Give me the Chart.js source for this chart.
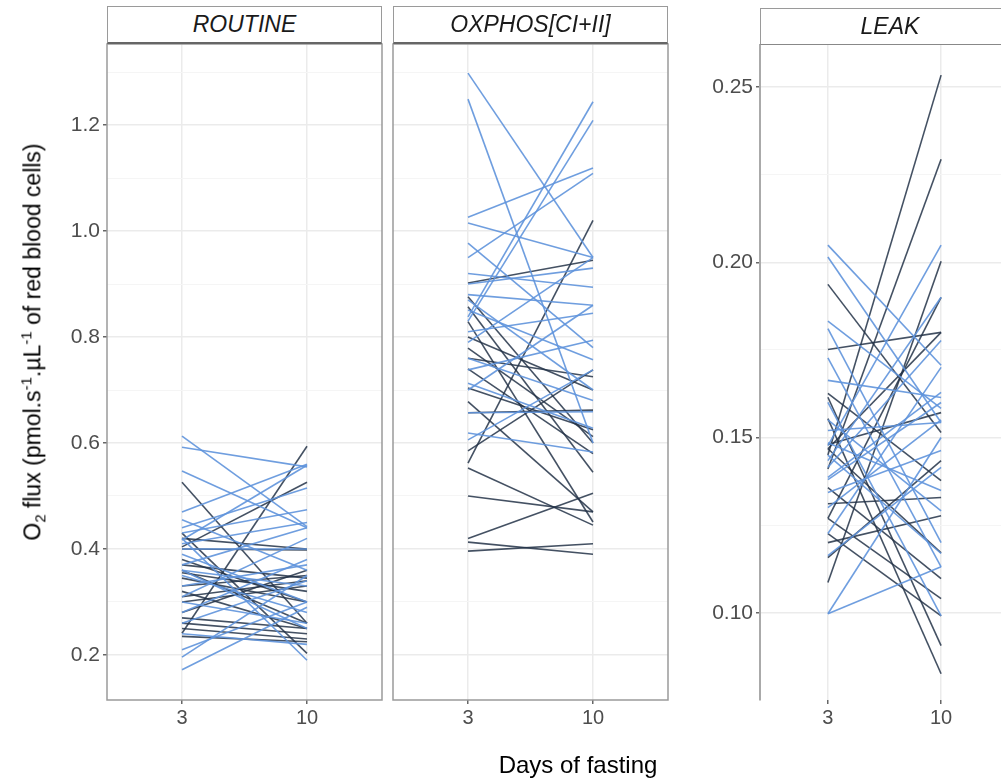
<!DOCTYPE html>
<html>
<head>
  <meta charset="utf-8">
  <title>O2 flux vs days of fasting</title>
  <script src="https://cdn.jsdelivr.net/npm/chart.js"></script>
  <style>
    body {
      margin: 0;
      width: 1001px;
      height: 782px;
      overflow: hidden;
      background: #fff;
      font-family: "Liberation Sans", Arial, sans-serif;
      position: relative;
    }
    canvas { position: absolute; top: 0; }
    .strip {
      position: absolute;
      box-sizing: border-box;
      background: #fff;
      border: 1.5px solid #9a9a9a;
      border-bottom: 2px solid #666;
      font-style: italic;
      font-size: 23px;
      color: #1a1a1a;
      text-align: center;
      line-height: 34px;
    }
    .ytitle {
      position: absolute;
      left: 33px;
      top: 342px;
      transform: translate(-50%, -50%) rotate(-90deg);
      white-space: nowrap;
      font-size: 23px;
      color: #000;
    }
    .ytitle sub, .ytitle sup { font-size: 15px; }
    .xtitle {
      position: absolute;
      left: 578px;
      top: 765px;
      transform: translate(-50%, -50%);
      font-size: 24px;
      color: #000;
      white-space: nowrap;
    }
  </style>
</head>
<body>
  <canvas id="routine" width="390" height="782" style="left:0px"></canvas>
  <canvas id="oxphos" width="290" height="782" style="left:390px"></canvas>
  <canvas id="leak" width="330" height="782" style="left:690px"></canvas>

  <div class="strip" style="left:107px; top:6px; width:275px; height:38px;">ROUTINE</div>
  <div class="strip" style="left:393px; top:6px; width:275px; height:38px;">OXPHOS[CI+II]</div>
  <div class="strip" style="left:760px; top:8px; width:260px; height:37px; border-bottom:1.5px solid #888;">LEAK</div>

  <div class="ytitle">O<sub>2</sub> flux (pmol.s<sup>-1</sup>.µL<sup>-1</sup> of red blood cells)</div>
  <div class="xtitle">Days of fasting</div>

  <script>
    // x categories
    const days = ['3', '10'];

    // ROUTINE: value at day 3 and day 10 for each bird
    const routineBlue3  = [0.613, 0.592, 0.547, 0.417, 0.47, 0.455, 0.44, 0.43, 0.41, 0.40, 0.39, 0.37, 0.36, 0.35, 0.33, 0.31, 0.30, 0.28, 0.26, 0.24, 0.21, 0.196, 0.172, 0.42, 0.36];
    const routineBlue10 = [0.442, 0.555, 0.44, 0.558, 0.56, 0.36, 0.515, 0.474, 0.45, 0.40, 0.30, 0.44, 0.33, 0.28, 0.37, 0.42, 0.26, 0.38, 0.34, 0.22, 0.30, 0.35, 0.29, 0.19, 0.25];
    const routineDark3  = [0.526, 0.241, 0.404, 0.43, 0.42, 0.40, 0.38, 0.37, 0.36, 0.355, 0.345, 0.33, 0.32, 0.31, 0.28, 0.27, 0.26, 0.25, 0.235, 0.30];
    const routineDark10 = [0.26, 0.594, 0.526, 0.203, 0.40, 0.398, 0.30, 0.345, 0.26, 0.32, 0.30, 0.35, 0.25, 0.34, 0.36, 0.25, 0.24, 0.23, 0.225, 0.33];

    // OXPHOS[CI+II]
    const oxphosBlue3  = [1.298, 1.249, 0.838, 0.83, 1.026, 0.95, 1.015, 0.977, 0.92, 0.90, 0.88, 0.87, 0.79, 0.606, 0.619, 0.657, 0.713, 0.738, 0.81, 0.851, 0.76, 0.70];
    const oxphosBlue10 = [0.95, 0.60, 1.244, 1.209, 1.119, 1.109, 0.95, 0.78, 0.894, 0.93, 0.86, 0.70, 0.95, 0.738, 0.583, 0.659, 0.628, 0.794, 0.845, 0.757, 0.68, 0.86];
    const oxphosDark3  = [0.562, 0.902, 0.876, 0.857, 0.829, 0.779, 0.76, 0.704, 0.678, 0.657, 0.585, 0.553, 0.50, 0.413, 0.396, 0.42, 0.74, 0.80];
    const oxphosDark10 = [1.02, 0.945, 0.60, 0.545, 0.451, 0.612, 0.725, 0.625, 0.47, 0.662, 0.738, 0.445, 0.47, 0.39, 0.41, 0.505, 0.58, 0.70];

    // LEAK
    const leakBlue3  = [0.2049, 0.2015, 0.1832, 0.1811, 0.1727, 0.1663, 0.1477, 0.1434, 0.1415, 0.1386, 0.1343, 0.1226, 0.1163, 0.0997, 0.1485, 0.155, 0.160, 0.145, 0.130, 0.138, 0.0997, 0.152];
    const leakBlue10 = [0.1706, 0.1543, 0.1583, 0.12, 0.1131, 0.1614, 0.2049, 0.190, 0.1777, 0.1629, 0.1463, 0.170, 0.1415, 0.1131, 0.1349, 0.1291, 0.0991, 0.1169, 0.155, 0.160, 0.150, 0.1543];
    const leakDark3  = [0.1937, 0.1751, 0.145, 0.141, 0.1086, 0.1269, 0.1468, 0.1626, 0.1615, 0.1554, 0.1468, 0.1357, 0.1311, 0.1269, 0.1226, 0.12, 0.1157, 0.148];
    const leakDark10 = [0.1514, 0.180, 0.2534, 0.2294, 0.2003, 0.190, 0.180, 0.1377, 0.0906, 0.0826, 0.1171, 0.1097, 0.1329, 0.104, 0.0991, 0.1277, 0.1434, 0.1571];

    // axis ticks
    const fluxGrid   = [0.2, 0.3, 0.4, 0.5, 0.6, 0.7, 0.8, 0.9, 1.0, 1.1, 1.2, 1.3];
    const fluxMajor  = [0.2, 0.4, 0.6, 0.8, 1.0, 1.2];
    const fluxLabels = ['0.2', '0.4', '0.6', '0.8', '1.0', '1.2'];
    const leakGrid   = [0.1, 0.125, 0.15, 0.175, 0.2, 0.225, 0.25];
    const leakMajor  = [0.1, 0.15, 0.2, 0.25];
    const leakLabels = ['0.10', '0.15', '0.20', '0.25'];

    const BLUE = 'rgba(95, 148, 220, 0.9)';
    const DARK = 'rgba(35, 50, 72, 0.85)';
    const TICK_TEXT = '#4d4d4d';

    // draws the grey box round a panel
    const framePlugin = {
      id: 'frame',
      afterDraw(chart, args, opts) {
        if (!opts.show) return;
        const a = chart.chartArea;
        const c = chart.ctx;
        c.save();
        c.strokeStyle = '#9a9a9a';
        c.lineWidth = 1.5;
        c.strokeRect(a.left, a.top, a.right - a.left, a.bottom - a.top);
        c.restore();
      }
    };

    function makeSets(blue3, blue10, dark3, dark10) {
      const sets = [];
      for (let i = 0; i < blue3.length; i++) {
        sets.push({ data: [{ x: 1, y: blue3[i] }, { x: 2, y: blue10[i] }], borderColor: BLUE });
      }
      for (let i = 0; i < dark3.length; i++) {
        sets.push({ data: [{ x: 1, y: dark3[i] }, { x: 2, y: dark10[i] }], borderColor: DARK });
      }
      sets.forEach(s => { s.borderWidth = 1.6; s.pointRadius = 0; s.fill = false; s.tension = 0; });
      return sets;
    }

    function isIn(list, v) {
      return list.some(m => Math.abs(m - v) < 1e-6);
    }

    function makeChart(id, sets, cfg) {
      return new Chart(document.getElementById(id), {
        type: 'line',
        data: { datasets: sets },
        plugins: [framePlugin],
        options: {
          responsive: false,
          animation: false,
          devicePixelRatio: 1,
          layout: { padding: cfg.padding },
          plugins: {
            legend: { display: false },
            tooltip: { enabled: false },
            frame: { show: cfg.frame }
          },
          scales: {
            x: {
              type: 'linear',
              min: 0.4,
              max: 2.6,
              afterBuildTicks: s => { s.ticks = [{ value: 1 }, { value: 2 }]; },
              afterFit: s => { s.height = cfg.xHeight; },
              ticks: {
                callback: v => days[v - 1],
                color: TICK_TEXT,
                font: { size: 20, family: '"Liberation Sans", Arial, sans-serif' },
                padding: 2,
                maxRotation: 0
              },
              grid: { color: '#ebebeb', lineWidth: 1.5, tickLength: 4, tickColor: '#666' },
              border: { display: false }
            },
            y: {
              min: cfg.yMin,
              max: cfg.yMax,
              afterBuildTicks: s => { s.ticks = cfg.grid.map(v => ({ value: v })); },
              afterFit: s => { s.width = cfg.yWidth; },
              ticks: {
                display: cfg.yLabels,
                callback: v => {
                  const i = cfg.major.findIndex(m => Math.abs(m - v) < 1e-6);
                  return i >= 0 ? cfg.labels[i] : '';
                },
                color: TICK_TEXT,
                font: { size: 21, family: '"Liberation Sans", Arial, sans-serif' },
                padding: 3
              },
              grid: {
                color: ctx => isIn(cfg.major, ctx.tick.value) ? '#ebebeb' : '#f5f5f5',
                lineWidth: ctx => isIn(cfg.major, ctx.tick.value) ? 1.5 : 1,
                drawTicks: cfg.yLabels,
                tickLength: 4,
                tickColor: ctx => isIn(cfg.major, ctx.tick.value) ? '#666' : 'rgba(0,0,0,0)'
              },
              border: { display: cfg.axisLine, color: '#aaa', width: 2 }
            }
          }
        }
      });
    }

    makeChart('routine', makeSets(routineBlue3, routineBlue10, routineDark3, routineDark10), {
      padding: { top: 44, right: 8, left: 0, bottom: 0 },
      frame: true, axisLine: false, yLabels: true, yWidth: 107, xHeight: 82,
      yMin: 0.115, yMax: 1.353, grid: fluxGrid, major: fluxMajor, labels: fluxLabels
    });

    makeChart('oxphos', makeSets(oxphosBlue3, oxphosBlue10, oxphosDark3, oxphosDark10), {
      padding: { top: 44, right: 12, left: 3, bottom: 0 },
      frame: true, axisLine: false, yLabels: false, yWidth: 0, xHeight: 82,
      yMin: 0.115, yMax: 1.353, grid: fluxGrid, major: fluxMajor, labels: fluxLabels
    });

    makeChart('leak', makeSets(leakBlue3, leakBlue10, leakDark3, leakDark10), {
      padding: { top: 45, right: 11, left: 0, bottom: 0 },
      frame: false, axisLine: true, yLabels: true, yWidth: 70, xHeight: 82,
      yMin: 0.0751, yMax: 0.262, grid: leakGrid, major: leakMajor, labels: leakLabels
    });
  </script>
</body>
</html>
